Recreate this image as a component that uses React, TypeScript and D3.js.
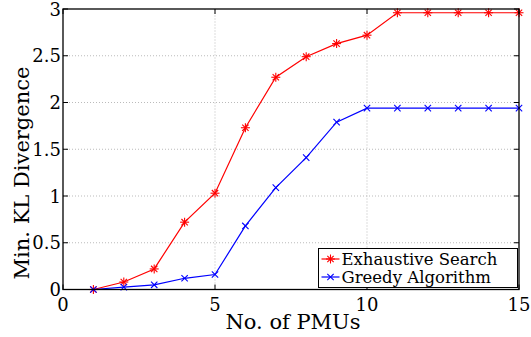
import React, { useEffect, useRef } from "react";
import * as d3 from "d3";

const pmus = [1, 2, 3, 4, 5, 6, 7, 8, 9, 10, 11, 12, 13, 14, 15];
const exhaustive = [0, 0.08, 0.22, 0.72, 1.03, 1.73, 2.27, 2.49, 2.63, 2.72, 2.96, 2.96, 2.96, 2.96, 2.96];
const greedy = [0, 0.025, 0.05, 0.12, 0.16, 0.68, 1.09, 1.41, 1.79, 1.94, 1.94, 1.94, 1.94, 1.94, 1.94];
const xTicks = [0, 5, 10, 15];
const yTicks = [0, 0.5, 1, 1.5, 2, 2.5, 3];
const seriesNames = ["Exhaustive Search", "Greedy Algorithm"];

function App() {
  const svgRef = useRef<SVGSVGElement>(null);
  const width = 531;
  const height = 337;

  useEffect(() => {
    const svg = d3.select(svgRef.current);
    svg.selectAll("*").remove();

    const margin = { top: 9, right: 12, bottom: 47.5, left: 63 };
    const font = "DejaVu Serif, Liberation Serif, serif";

    const x = d3.scaleLinear().domain([0, 15]).range([margin.left, width - margin.right]);
    const y = d3.scaleLinear().domain([0, 3]).range([height - margin.bottom, margin.top]);

    // grid lines
    const grid = svg.append("g").attr("stroke", "#bbbbbb").attr("stroke-dasharray", "1,2").attr("stroke-width", 1);
    xTicks.slice(1, -1).forEach((t) => {
      grid.append("line").attr("x1", x(t)).attr("x2", x(t)).attr("y1", y(0)).attr("y2", y(3));
    });
    yTicks.slice(1, -1).forEach((t) => {
      grid.append("line").attr("x1", x(0)).attr("x2", x(15)).attr("y1", y(t)).attr("y2", y(t));
    });

    const drawMarker = (cx: number, cy: number, color: string, kind: string) => {
      const r = 4.5;
      const g = svg.append("g").attr("stroke", color).attr("stroke-width", 1.1);
      const angles = kind === "star" ? [0, 45, 90, 135] : [45, 135];
      angles.forEach((a) => {
        const rad = (a * Math.PI) / 180;
        g.append("line")
          .attr("x1", cx - r * Math.cos(rad))
          .attr("y1", cy - r * Math.sin(rad))
          .attr("x2", cx + r * Math.cos(rad))
          .attr("y2", cy + r * Math.sin(rad));
      });
    };

    // lines and markers
    const line = d3
      .line<number>()
      .x((d, i) => x(pmus[i]))
      .y((d) => y(d));

    const drawSeries = (vals: number[], color: string, kind: string) => {
      svg
        .append("path")
        .datum(vals)
        .attr("fill", "none")
        .attr("stroke", color)
        .attr("stroke-width", 1.2)
        .attr("d", line);
      vals.forEach((v, i) => {
        drawMarker(x(pmus[i]), y(v), color, kind);
      });
    };

    drawSeries(exhaustive, "#ff0000", "star");
    drawSeries(greedy, "#0000ff", "cross");

    // axes box
    svg
      .append("rect")
      .attr("x", x(0))
      .attr("y", y(3))
      .attr("width", x(15) - x(0))
      .attr("height", y(0) - y(3))
      .attr("fill", "none")
      .attr("stroke", "#000")
      .attr("stroke-width", 1.3);

    // inward ticks
    const ticks = svg.append("g").attr("stroke", "#000").attr("stroke-width", 1);
    xTicks.forEach((t) => {
      ticks.append("line").attr("x1", x(t)).attr("x2", x(t)).attr("y1", y(0)).attr("y2", y(0) - 5);
      ticks.append("line").attr("x1", x(t)).attr("x2", x(t)).attr("y1", y(3)).attr("y2", y(3) + 5);
    });
    yTicks.forEach((t) => {
      ticks.append("line").attr("x1", x(0)).attr("x2", x(0) + 5).attr("y1", y(t)).attr("y2", y(t));
      ticks.append("line").attr("x1", x(15)).attr("x2", x(15) - 5).attr("y1", y(t)).attr("y2", y(t));
    });

    // tick labels
    svg
      .append("g")
      .selectAll("text")
      .data(xTicks)
      .join("text")
      .attr("x", (d) => x(d))
      .attr("y", 311)
      .attr("text-anchor", "middle")
      .style("font-family", font)
      .style("font-size", "18px")
      .text((d) => d);

    svg
      .append("g")
      .selectAll("text")
      .data(yTicks)
      .join("text")
      .attr("x", x(0) - 2)
      .attr("y", (d) => y(d) + 6.5)
      .attr("text-anchor", "end")
      .style("font-family", font)
      .style("font-size", "18px")
      .text((d) => d);

    // axis titles
    svg
      .append("text")
      .attr("x", 293)
      .attr("y", 329)
      .attr("text-anchor", "middle")
      .style("font-family", font)
      .style("font-size", "21px")
      .text("No. of PMUs");

    svg
      .append("text")
      .attr("text-anchor", "middle")
      .attr("transform", `translate(29,173)rotate(-90)`)
      .style("font-family", font)
      .style("font-size", "21px")
      .text("Min. KL Divergence");

    // legend
    const lg = svg.append("g");
    const lx = 318.5;
    const ly = 248.5;
    lg.append("rect")
      .attr("x", lx)
      .attr("y", ly)
      .attr("width", 199)
      .attr("height", 39)
      .attr("fill", "#fff")
      .attr("stroke", "#000")
      .attr("stroke-width", 1);
    const colors = ["#ff0000", "#0000ff"];
    const kinds = ["star", "cross"];
    seriesNames.forEach((name, i) => {
      const cy = ly + 10.5 + i * 18;
      lg.append("line")
        .attr("x1", lx + 3)
        .attr("x2", lx + 21)
        .attr("y1", cy)
        .attr("y2", cy)
        .attr("stroke", colors[i])
        .attr("stroke-width", 1.2);
      drawMarker(lx + 12, cy, colors[i], kinds[i]);
      lg.append("text")
        .attr("x", lx + 23)
        .attr("y", cy + 5.5)
        .style("font-family", font)
        .style("font-size", "16.5px")
        .text(name);
    });
  }, []);

  return (
    <svg
      ref={svgRef}
      width={width}
      height={height}
      style={{ position: "absolute", left: 0, top: 0, background: "#fff" }}
    ></svg>
  );
}

export default App;
